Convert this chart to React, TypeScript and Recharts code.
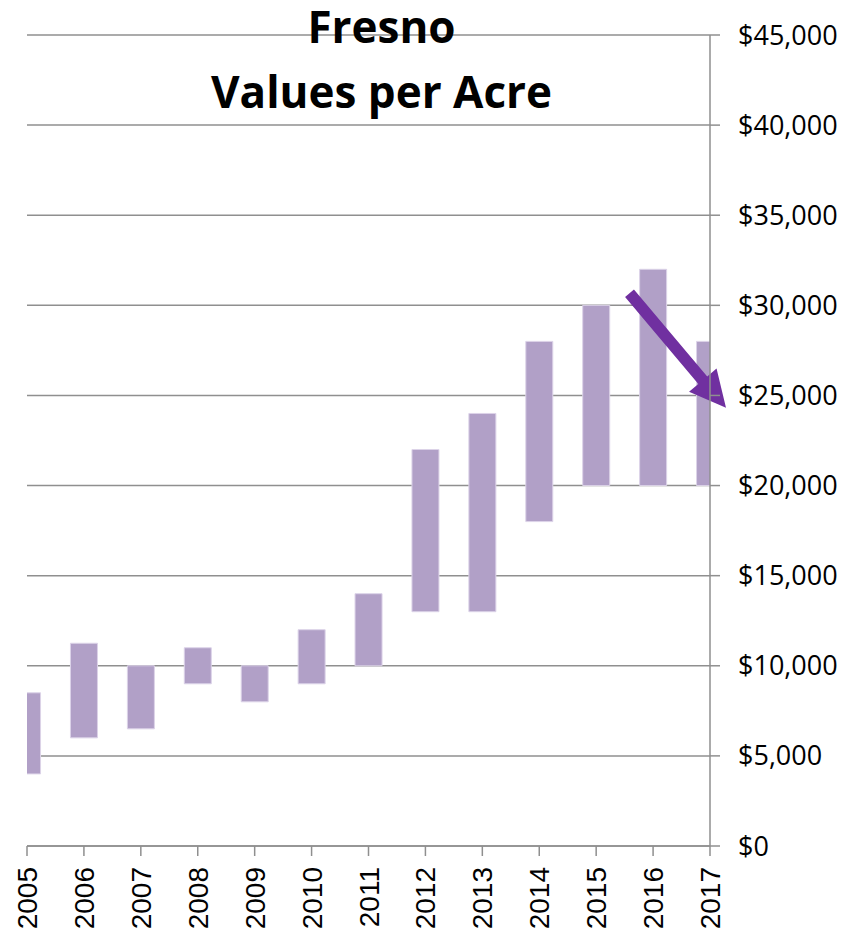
import React from 'react';
import { ComposedChart, Bar, XAxis, YAxis, CartesianGrid, ReferenceLine } from 'recharts';

// ---- data ----
const years = [2005, 2006, 2007, 2008, 2009, 2010, 2011, 2012, 2013, 2014, 2015, 2016, 2017];
const lowValues = [4000, 6000, 6500, 9000, 8000, 9000, 10000, 13000, 13000, 18000, 20000, 20000, 20000];
const highValues = [8500, 11250, 10000, 11000, 10000, 12000, 14000, 22000, 24000, 28000, 30000, 32000, 28000];
const yTicks = [0, 5000, 10000, 15000, 20000, 25000, 30000, 35000, 40000, 45000];
const titleLines = ['Fresno', 'Values per Acre'];
// arrow annotation endpoints in data units: [year, value]
const arrowSegment = [
  { x: 2015.586, y: 30670 },
  { x: 2017.281, y: 24320 },
];

const data = years.map((year, i) => ({ year, range: [lowValues[i], highValues[i]] }));

const AXIS_GRAY = '#8F8F8F';

const XTick = (props: any) => {
  const { x, y, payload } = props;
  const yy = y + 9;
  return (
    <text
      x={x}
      y={yy}
      transform={`rotate(-90 ${x} ${yy})`}
      textAnchor="end"
      dy="0.36em"
      fontFamily="'Liberation Sans', Arial, sans-serif"
      fontSize={28}
      fill="#000"
    >
      {payload.value}
    </text>
  );
};

const ArrowShape = (p: any) => {
  const { x1, y1, x2, y2 } = p;
  const dx = x2 - x1;
  const dy = y2 - y1;
  const len = Math.hypot(dx, dy) || 1;
  const ux = dx / len;
  const uy = dy / len;
  const nx = -uy;
  const ny = ux;
  const headLen = 36;
  const headHalf = 18;
  const sh = 5.8;
  const bx = x2 - ux * headLen;
  const by = y2 - uy * headLen;
  const pts = [
    [x1 + nx * sh, y1 + ny * sh],
    [bx + nx * sh, by + ny * sh],
    [bx + nx * headHalf, by + ny * headHalf],
    [x2, y2],
    [bx - nx * headHalf, by - ny * headHalf],
    [bx - nx * sh, by - ny * sh],
    [x1 - nx * sh, y1 - ny * sh],
  ]
    .map((q) => q.join(','))
    .join(' ');
  return <polygon points={pts} fill="#7030A0" stroke="none" />;
};

const fmt = (v: number) => '$' + v.toLocaleString('en-US');

export default function App() {
  return (
    <div style={{ position: 'absolute', left: 0, top: 0, width: 866, height: 934, background: '#fff' }}>
      <ComposedChart
        width={866}
        height={934}
        data={data}
        margin={{ top: 35, left: 27, right: 0, bottom: 0 }}
      >
        <CartesianGrid vertical={false} stroke={AXIS_GRAY} strokeWidth={1.5} />
        <XAxis
          dataKey="year"
          type="number"
          domain={[2005, 2017]}
          ticks={years}
          allowDataOverflow
          interval={0}
          height={88}
          tickSize={10}
          stroke={AXIS_GRAY}
          axisLine={{ stroke: AXIS_GRAY, strokeWidth: 1.5 }}
          tickLine={{ stroke: AXIS_GRAY, strokeWidth: 1.5 }}
          tick={<XTick />}
        />
        <YAxis
          orientation="right"
          domain={[0, 45000]}
          ticks={yTicks}
          interval={0}
          width={156}
          tickSize={10}
          tickMargin={18}
          tickFormatter={fmt}
          axisLine={{ stroke: AXIS_GRAY, strokeWidth: 1.5 }}
          tickLine={{ stroke: AXIS_GRAY, strokeWidth: 1.5 }}
          tick={{ fontFamily: "'Open Sans', sans-serif", fontSize: 27, fill: '#000' }}
        />
        <Bar
          dataKey="range"
          barSize={27}
          fill="#B1A0C7"
          stroke="#DCD3E8"
          strokeWidth={1}
          isAnimationActive={false}
        />
        <ReferenceLine
          segment={arrowSegment}
          ifOverflow="visible"
          stroke="#7030A0"
          shape={<ArrowShape />}
        />
      </ComposedChart>
      <svg
        width={866}
        height={140}
        style={{ position: 'absolute', left: 0, top: 0, pointerEvents: 'none' }}
      >
        <text
          x={381.5}
          y={43}
          textAnchor="middle"
          fontFamily="'Open Sans', sans-serif"
          fontWeight="bold"
          fontSize={44}
          fill="#000"
        >
          {titleLines[0]}
        </text>
        <text
          x={381.5}
          y={108}
          textAnchor="middle"
          fontFamily="'Open Sans', sans-serif"
          fontWeight="bold"
          fontSize={44}
          fill="#000"
        >
          {titleLines[1]}
        </text>
      </svg>
    </div>
  );
}
